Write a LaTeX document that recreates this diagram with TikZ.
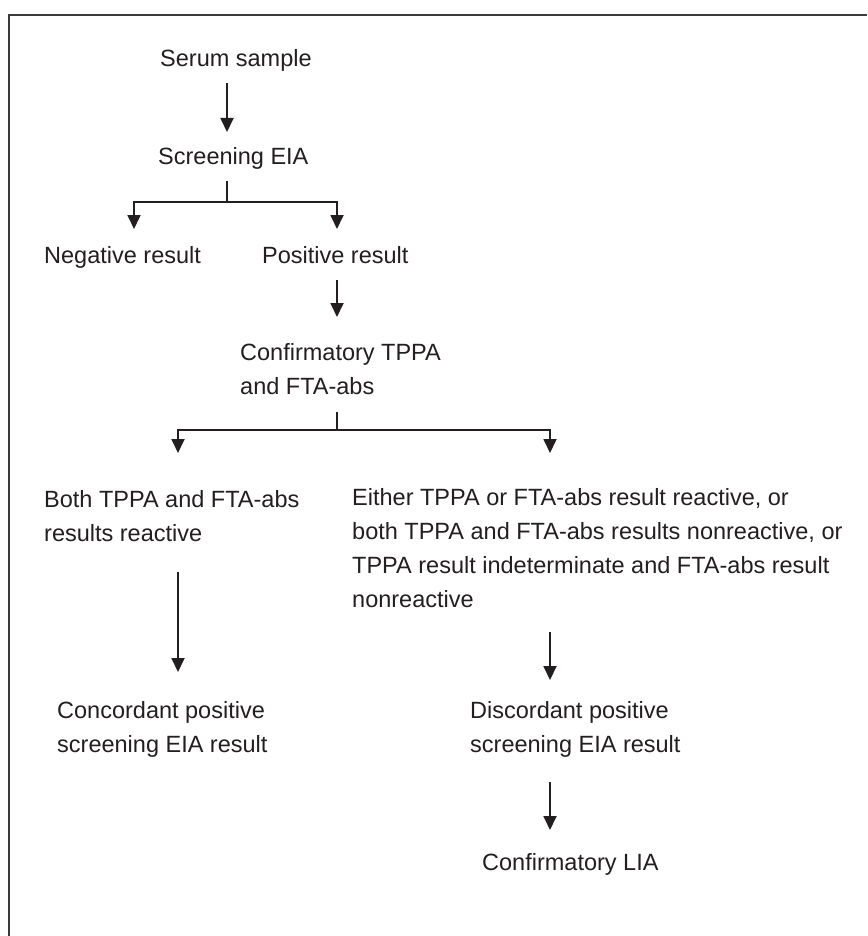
\documentclass[tikz,border=0pt]{standalone}
\usepackage{fontspec}
\setmainfont{Liberation Sans}
\usetikzlibrary{arrows.meta}
\definecolor{ink}{HTML}{231F20}
\definecolor{frame}{HTML}{3A3A3A}
\begin{document}
\begin{tikzpicture}[x=1pt,y=-1pt,
  lbl/.style={anchor=base west, inner sep=0pt, align=left, text=ink,
    font=\fontsize{23.5}{34}\selectfont},
  arr/.style={draw=ink, line width=1.8pt, -{Triangle[width=13pt,length=14pt]}},
  ln/.style={draw=ink, line width=1.8pt}]
\useasboundingbox (0,0) rectangle (867,936);
\fill[white] (0,0) rectangle (867,936);
\draw[frame, line width=2.6pt] (867,15) -- (9,15) -- (9,936);

% multi-line nodes are placed by the baseline of their last line
\node[lbl] (serum) at (160,67) {Serum sample};
\node[lbl] (screen) at (158,165) {Screening EIA};
\node[lbl] (neg) at (44,263) {Negative result};
\node[lbl] (pos) at (262,263) {Positive result};
\node[lbl] (conf) at (240,394) {Confirmatory TPPA\\and FTA-abs};
\node[lbl] (both) at (44,541) {Both TPPA and FTA-abs\\results reactive};
\node[lbl] (either) at (352,607) {Either TPPA or FTA-abs result reactive, or\\both TPPA and FTA-abs results nonreactive, or\\TPPA result indeterminate and FTA-abs result\\nonreactive};
\node[lbl] (conc) at (57,752) {Concordant positive\\screening EIA result};
\node[lbl] (disc) at (470,752) {Discordant positive\\screening EIA result};
\node[lbl] (lia) at (482,870) {Confirmatory LIA};

% serum -> screening
\coordinate (s1) at (227,83);
\coordinate (s2) at (227,132);
\draw[arr] (s1) -- (s2);
% screening split
\coordinate (b0) at (227,181);
\coordinate (b1) at (227,202);
\coordinate (bl) at (134,202);
\coordinate (br) at (337,202);
\coordinate (blt) at (134,229);
\coordinate (brt) at (337,229);
\draw[ln] (b0) -- (b1);
\draw[arr] (b1) -- (bl) -- (blt);
\draw[arr] (b1) -- (br) -- (brt);
% positive -> confirmatory
\coordinate (p1) at (337,280);
\coordinate (p2) at (337,317);
\draw[arr] (p1) -- (p2);
% confirmatory split
\coordinate (c0) at (337,412);
\coordinate (c1) at (337,430);
\coordinate (cl) at (178,430);
\coordinate (cr) at (550,430);
\coordinate (clt) at (178,453);
\coordinate (crt) at (550,453);
\draw[ln] (c0) -- (c1);
\draw[arr] (c1) -- (cl) -- (clt);
\draw[arr] (c1) -- (cr) -- (crt);
% both -> concordant
\coordinate (d1) at (178,572);
\coordinate (d2) at (178,672);
\draw[arr] (d1) -- (d2);
% either -> discordant
\coordinate (e1) at (550,632);
\coordinate (e2) at (550,680);
\draw[arr] (e1) -- (e2);
% discordant -> LIA
\coordinate (f1) at (550,782);
\coordinate (f2) at (550,830);
\draw[arr] (f1) -- (f2);
\end{tikzpicture}
\end{document}
